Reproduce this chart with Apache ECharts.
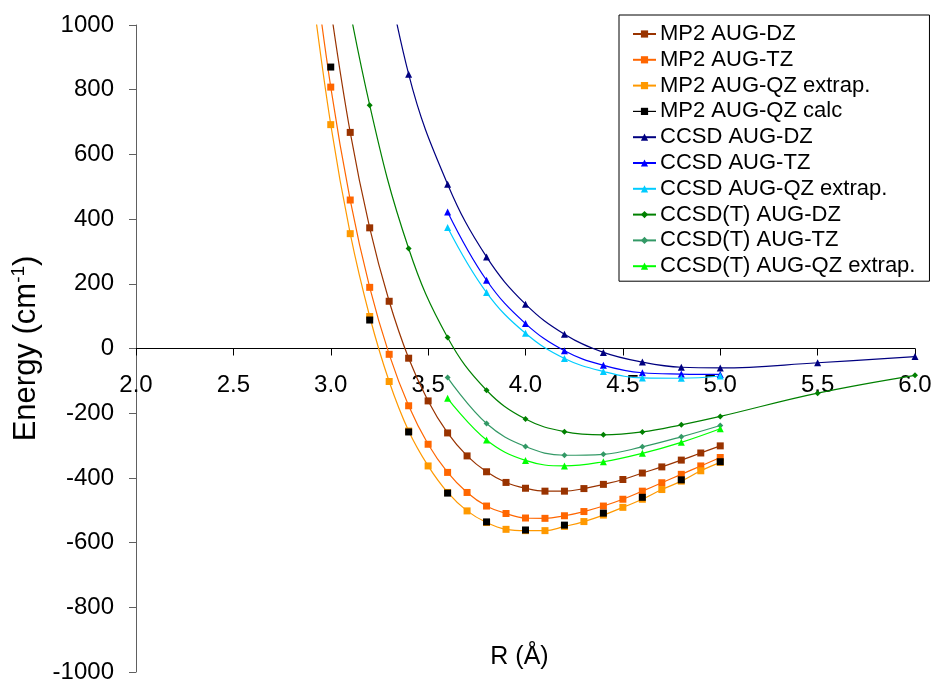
<!DOCTYPE html>
<html>
<head>
<meta charset="utf-8">
<script src="https://cdn.jsdelivr.net/npm/echarts@6/dist/echarts.min.js"></script>
<style>
  html, body { margin: 0; padding: 0; background: #ffffff; }
  #chart { width: 934px; height: 683px; }
</style>
</head>
<body>
<div id="chart"></div>
<script>
// Bond distances R (Å) for each calculation set
const rMp2Dz   = [3.0, 3.1, 3.2, 3.3, 3.4, 3.5, 3.6, 3.7, 3.8, 3.9, 4.0, 4.1, 4.2, 4.3, 4.4, 4.5, 4.6, 4.7, 4.8, 4.9, 5.0];
const rMp2Tz   = [2.9, 3.0, 3.1, 3.2, 3.3, 3.4, 3.5, 3.6, 3.7, 3.8, 3.9, 4.0, 4.1, 4.2, 4.3, 4.4, 4.5, 4.6, 4.7, 4.8, 4.9, 5.0];
const rMp2Qz   = [2.9, 3.0, 3.1, 3.2, 3.3, 3.4, 3.5, 3.6, 3.7, 3.8, 3.9, 4.0, 4.1, 4.2, 4.3, 4.4, 4.5, 4.6, 4.7, 4.8, 4.9, 5.0];
const rMp2Calc = [3.0, 3.2, 3.4, 3.6, 3.8, 4.0, 4.2, 4.4, 4.6, 4.8, 5.0];
const rCcsdDz  = [3.2, 3.4, 3.6, 3.8, 4.0, 4.2, 4.4, 4.6, 4.8, 5.0, 5.5, 6.0];
const rCcsdTz  = [3.6, 3.8, 4.0, 4.2, 4.4, 4.6, 4.8, 5.0];
const rCcsdQz  = [3.6, 3.8, 4.0, 4.2, 4.4, 4.6, 4.8, 5.0];
const rCcsdtDz = [3.0, 3.2, 3.4, 3.6, 3.8, 4.0, 4.2, 4.4, 4.6, 4.8, 5.0, 5.5, 6.0];
const rCcsdtTz = [3.6, 3.8, 4.0, 4.2, 4.4, 4.6, 4.8, 5.0];
const rCcsdtQz = [3.6, 3.8, 4.0, 4.2, 4.4, 4.6, 4.8, 5.0];

// Interaction energies (cm-1)
const eMp2Dz   = [1050, 668, 373, 146, -30, -162, -261, -332, -381, -414, -432, -441, -441, -433, -420, -405, -385, -366, -345, -323, -301];
const eMp2Tz   = [1258, 808, 459, 189, -18, -177, -296, -383, -445, -487, -510, -524, -525, -517, -504, -487, -466, -441, -415, -389, -363, -337];
const eMp2Qz   = [1130, 692, 355, 99, -102, -255, -363, -445, -502, -538, -559, -563, -563, -550, -535, -515, -491, -466, -436, -410, -378, -352];
const eMp2Calc = [870, 88, -258, -447, -536, -561, -546, -509, -460, -406, -350];
const eCcsdDz  = [1450, 848, 508, 283, 137, 44, -12, -42, -58, -60, -44, -25];
const eCcsdTz  = [422, 211, 77, -7, -52, -75, -79, -80];
const eCcsdQz  = [374, 173, 47, -31, -71, -91, -92, -85];
const eCcsdtDz = [1370, 752, 309, 34, -129, -218, -257, -267, -258, -236, -210, -138, -83];
const eCcsdtTz = [-90, -232, -303, -330, -327, -304, -273, -238];
const eCcsdtQz = [-154, -283, -346, -363, -350, -324, -290, -248];

const seriesNames = [
  'MP2 AUG-DZ', 'MP2 AUG-TZ', 'MP2 AUG-QZ extrap.', 'MP2 AUG-QZ calc',
  'CCSD AUG-DZ', 'CCSD AUG-TZ', 'CCSD AUG-QZ extrap.',
  'CCSD(T) AUG-DZ', 'CCSD(T) AUG-TZ', 'CCSD(T) AUG-QZ extrap.'
];

// Tick values on the energy axis
const energyTicks = [-1000, -800, -600, -400, -200, 0, 200, 400, 600, 800, 1000];

const FONT = '"Liberation Sans", Arial, sans-serif';

// Plot area geometry; the R axis is drawn through E = 0
const GRID_TOP = 25;
const GRID_BOTTOM = 11;
const GRID_H = 683 - GRID_TOP - GRID_BOTTOM;
const ZERO_LIFT = GRID_H / 2;

function pairs(rs, es) {
  return rs.map((r, i) => [r, es[i]]);
}

function curve(name, rs, es, color, symbol, size, showLine) {
  return {
    name: name,
    type: 'line',
    data: pairs(rs, es),
    smooth: 0.4,
    clip: true,
    symbol: symbol,
    symbolSize: size,
    showSymbol: true,
    color: color,
    itemStyle: { color: color, borderWidth: 0 },
    lineStyle: showLine ? { color: color, width: 1.2 } : { color: color, width: 0, opacity: 0 },
    emphasis: { disabled: true }
  };
}

const chart = echarts.init(document.getElementById('chart'), null, { renderer: 'canvas' });

chart.setOption({
  animation: false,
  backgroundColor: '#ffffff',
  textStyle: { fontFamily: FONT },
  grid: { left: 136, right: 19, top: GRID_TOP, bottom: GRID_BOTTOM, containLabel: false, outerBoundsMode: 'none' },
  legend: {
    orient: 'vertical',
    left: 619,
    top: 15,
    padding: [8, 14, 4, 13],
    itemGap: 3.8,
    itemWidth: 23,
    itemHeight: 9,
    backgroundColor: '#ffffff',
    borderColor: '#000000',
    borderWidth: 1,
    borderRadius: 0,
    textStyle: { fontFamily: FONT, fontSize: 22, color: '#000000', lineHeight: 22, padding: [0, 0, 0, -1] },
    data: seriesNames.map((n) =>
      n === 'MP2 AUG-QZ calc'
        ? { name: n, lineStyle: { width: 1.2, opacity: 1, color: '#000000' } }
        : { name: n })
  },
  xAxis: {
    type: 'value',
    min: 2,
    max: 6,
    interval: 0.5,
    offset: -ZERO_LIFT,
    name: 'R (Å)',
    nameLocation: 'middle',
    nameGap: 296,
    nameTextStyle: { fontFamily: FONT, fontSize: 25, color: '#000000', padding: [0, 12, 0, 0] },
    axisLine: { onZero: false, lineStyle: { color: '#000000', width: 1 } },
    axisTick: { show: true, inside: false, length: 7, lineStyle: { color: '#000000' } },
    axisLabel: {
      margin: 25,
      fontFamily: FONT,
      fontSize: 24,
      color: '#000000',
      formatter: (v) => v.toFixed(1)
    },
    splitLine: { show: false }
  },
  yAxis: {
    type: 'value',
    min: energyTicks[0],
    max: energyTicks[energyTicks.length - 1],
    interval: 200,
    name: 'Energy (cm{sup|-1})',
    nameLocation: 'middle',
    nameGap: 90,
    nameRotate: 90,
    nameTextStyle: {
      fontFamily: FONT,
      fontSize: 31,
      color: '#000000',
      rich: {
        sup: { fontFamily: FONT, fontSize: 19, verticalAlign: 'top', padding: [0, 0, 14, 0], color: '#000000' }
      }
    },
    axisLine: { show: true, onZero: false, lineStyle: { color: '#606060', width: 1 } },
    axisTick: { show: true, inside: false, length: 7, lineStyle: { color: '#606060' } },
    axisLabel: { margin: 22, fontFamily: FONT, fontSize: 24, color: '#000000', formatter: (v) => String(v) },
    splitLine: { show: false }
  },
  series: [
    curve(seriesNames[0], rMp2Dz, eMp2Dz, '#993300', 'rect', 7, true),
    curve(seriesNames[1], rMp2Tz, eMp2Tz, '#FF6600', 'rect', 7, true),
    curve(seriesNames[2], rMp2Qz, eMp2Qz, '#FF9900', 'rect', 7, true),
    curve(seriesNames[3], rMp2Calc, eMp2Calc, '#000000', 'rect', 7, false),
    curve(seriesNames[4], rCcsdDz, eCcsdDz, '#000080', 'triangle', 7, true),
    curve(seriesNames[5], rCcsdTz, eCcsdTz, '#0000FF', 'triangle', 7, true),
    curve(seriesNames[6], rCcsdQz, eCcsdQz, '#00CCFF', 'triangle', 7, true),
    curve(seriesNames[7], rCcsdtDz, eCcsdtDz, '#008000', 'diamond', 6, true),
    curve(seriesNames[8], rCcsdtTz, eCcsdtTz, '#339966', 'diamond', 6, true),
    curve(seriesNames[9], rCcsdtQz, eCcsdtQz, '#00FF00', 'triangle', 7, true)
  ]
});
</script>
</body>
</html>
